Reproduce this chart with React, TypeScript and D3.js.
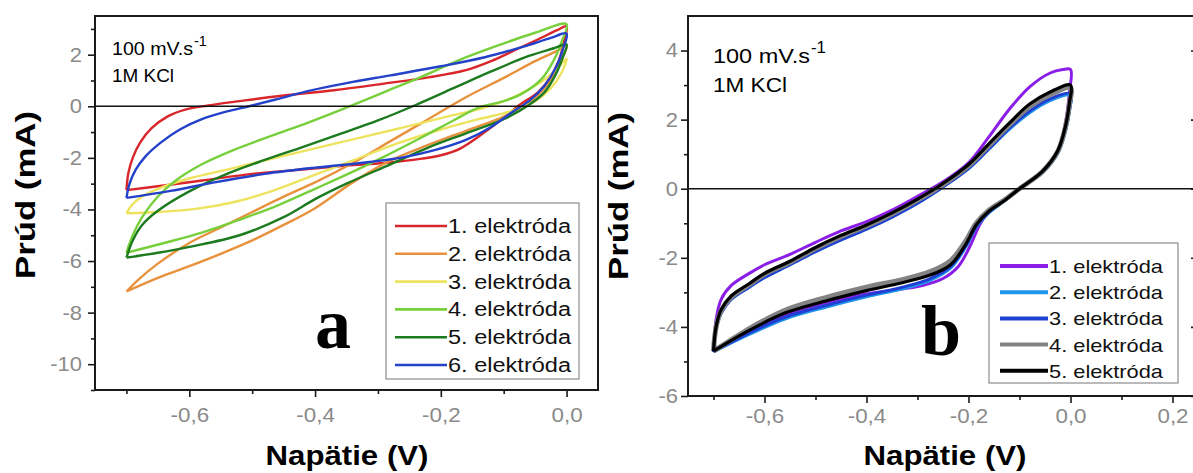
import React, { useEffect, useRef } from "react";
import * as d3 from "d3";

// ---- panel a: CV loops, [napätie V, prúd mA], forward scan then reverse scan
const a1Fwd = [[-0.7,-3.25],[-0.697,-2.6],[-0.69,-2.0],[-0.678,-1.4],[-0.66,-0.85],[-0.635,-0.4],[-0.605,-0.12],[-0.57,0.03],[-0.52,0.2],[-0.45,0.42],[-0.37,0.62],[-0.29,0.88],[-0.22,1.12],[-0.16,1.4],[-0.12,1.75],[-0.08,2.2],[-0.045,2.6],[-0.015,2.95],[0,3.1]];
const a1Rev = [[0,3.1],[-0.004,2.5],[-0.012,1.8],[-0.025,1.15],[-0.045,0.55],[-0.075,0.05],[-0.1,-0.45],[-0.13,-1.0],[-0.17,-1.65],[-0.2,-1.9],[-0.23,-2.03],[-0.29,-2.2],[-0.35,-2.3],[-0.42,-2.45],[-0.5,-2.62],[-0.58,-2.88],[-0.65,-3.1],[-0.7,-3.25]];
const a2Fwd = [[-0.7,-7.18],[-0.68,-6.7],[-0.65,-6.1],[-0.6,-5.3],[-0.55,-4.7],[-0.5,-4.1],[-0.45,-3.5],[-0.4,-2.95],[-0.34,-2.2],[-0.28,-1.35],[-0.22,-0.5],[-0.16,0.35],[-0.1,1.1],[-0.05,1.75],[-0.015,2.15],[0,2.35]];
const a2Rev = [[0,2.35],[-0.006,1.9],[-0.018,1.3],[-0.035,0.7],[-0.06,0.15],[-0.1,-0.4],[-0.16,-0.95],[-0.22,-1.5],[-0.28,-2.1],[-0.34,-2.95],[-0.4,-3.95],[-0.45,-4.6],[-0.5,-5.2],[-0.55,-5.72],[-0.6,-6.2],[-0.65,-6.65],[-0.7,-7.18]];
const a3Fwd = [[-0.7,-4.15],[-0.692,-3.85],[-0.675,-3.5],[-0.645,-3.15],[-0.6,-2.8],[-0.53,-2.4],[-0.45,-1.92],[-0.36,-1.4],[-0.27,-0.88],[-0.19,-0.4],[-0.13,-0.05],[-0.08,0.4],[-0.04,0.95],[-0.015,1.45],[0,1.85]];
const a3Rev = [[0,1.85],[-0.008,1.3],[-0.025,0.7],[-0.05,0.2],[-0.09,-0.2],[-0.14,-0.5],[-0.2,-0.9],[-0.27,-1.45],[-0.34,-2.1],[-0.41,-2.75],[-0.47,-3.3],[-0.53,-3.72],[-0.59,-3.98],[-0.65,-4.1],[-0.7,-4.15]];
const a4Fwd = [[-0.7,-5.68],[-0.69,-5.0],[-0.675,-4.3],[-0.65,-3.5],[-0.62,-2.85],[-0.58,-2.25],[-0.53,-1.7],[-0.47,-1.15],[-0.41,-0.62],[-0.35,-0.05],[-0.29,0.55],[-0.23,1.15],[-0.17,1.8],[-0.11,2.35],[-0.05,2.85],[0,3.18]];
const a4Rev = [[0,3.18],[-0.008,2.5],[-0.02,1.8],[-0.04,1.05],[-0.07,0.5],[-0.1,0.2],[-0.14,-0.05],[-0.18,-0.55],[-0.23,-1.2],[-0.29,-1.95],[-0.35,-2.65],[-0.4,-3.2],[-0.46,-3.85],[-0.52,-4.4],[-0.58,-4.9],[-0.64,-5.3],[-0.7,-5.68]];
const a5Fwd = [[-0.7,-5.87],[-0.69,-5.2],[-0.675,-4.6],[-0.65,-4.05],[-0.6,-3.3],[-0.54,-2.62],[-0.48,-2.08],[-0.42,-1.58],[-0.36,-1.07],[-0.3,-0.55],[-0.24,0.05],[-0.18,0.7],[-0.12,1.35],[-0.06,1.95],[-0.02,2.25],[0,2.4]];
const a5Rev = [[0,2.4],[-0.006,1.9],[-0.018,1.2],[-0.035,0.55],[-0.06,0.05],[-0.1,-0.5],[-0.16,-1.05],[-0.22,-1.6],[-0.28,-2.25],[-0.35,-3.0],[-0.4,-3.6],[-0.45,-4.3],[-0.52,-5.0],[-0.6,-5.45],[-0.65,-5.68],[-0.7,-5.87]];
const a6Fwd = [[-0.7,-3.55],[-0.695,-3.0],[-0.685,-2.45],[-0.67,-1.95],[-0.645,-1.4],[-0.615,-0.9],[-0.58,-0.5],[-0.54,-0.2],[-0.505,0],[-0.46,0.28],[-0.41,0.6],[-0.35,0.9],[-0.28,1.2],[-0.2,1.55],[-0.13,1.9],[-0.07,2.3],[-0.025,2.65],[0,2.82]];
const a6Rev = [[0,2.82],[-0.006,2.2],[-0.017,1.5],[-0.035,0.8],[-0.06,0.2],[-0.085,-0.2],[-0.12,-0.8],[-0.16,-1.3],[-0.21,-1.7],[-0.26,-1.98],[-0.32,-2.18],[-0.4,-2.38],[-0.48,-2.62],[-0.56,-2.95],[-0.63,-3.28],[-0.7,-3.55]];

// ---- panel b
const b1Fwd = [[-0.7,-4.7],[-0.695,-3.8],[-0.685,-3.2],[-0.665,-2.8],[-0.63,-2.45],[-0.6,-2.2],[-0.55,-1.9],[-0.5,-1.55],[-0.45,-1.22],[-0.4,-0.95],[-0.35,-0.62],[-0.3,-0.22],[-0.25,0.2],[-0.2,0.75],[-0.16,1.5],[-0.12,2.3],[-0.08,2.95],[-0.04,3.35],[-0.015,3.45],[0,3.45]];
const b1Rev = [[0,3.45],[-0.002,2.8],[-0.01,1.9],[-0.025,1.1],[-0.055,0.5],[-0.1,0],[-0.135,-0.4],[-0.165,-0.75],[-0.18,-1.1],[-0.195,-1.6],[-0.22,-2.25],[-0.25,-2.6],[-0.29,-2.8],[-0.33,-2.9],[-0.4,-3.05],[-0.48,-3.3],[-0.56,-3.65],[-0.63,-4.15],[-0.7,-4.7]];
const b2Fwd = [[-0.7,-4.72],[-0.695,-4.05],[-0.685,-3.6],[-0.665,-3.2],[-0.63,-2.85],[-0.6,-2.57],[-0.55,-2.2],[-0.5,-1.82],[-0.45,-1.48],[-0.4,-1.17],[-0.35,-0.82],[-0.3,-0.42],[-0.25,0.05],[-0.2,0.58],[-0.16,1.15],[-0.12,1.72],[-0.08,2.2],[-0.04,2.55],[0,2.7]];
const b2Rev = [[0,2.7],[-0.002,2.25],[-0.01,1.65],[-0.025,1.02],[-0.055,0.46],[-0.1,0],[-0.13,-0.36],[-0.16,-0.7],[-0.185,-1.12],[-0.205,-1.68],[-0.235,-2.3],[-0.275,-2.65],[-0.33,-2.9],[-0.4,-3.13],[-0.48,-3.43],[-0.56,-3.77],[-0.63,-4.22],[-0.7,-4.72]];
const b3Fwd = [[-0.7,-4.72],[-0.695,-4.05],[-0.685,-3.6],[-0.665,-3.2],[-0.63,-2.85],[-0.6,-2.57],[-0.55,-2.2],[-0.5,-1.82],[-0.45,-1.48],[-0.4,-1.17],[-0.35,-0.82],[-0.3,-0.42],[-0.25,0.05],[-0.2,0.58],[-0.16,1.15],[-0.12,1.75],[-0.08,2.25],[-0.04,2.6],[0,2.75]];
const b3Rev = [[0,2.75],[-0.002,2.3],[-0.01,1.7],[-0.025,1.05],[-0.055,0.48],[-0.1,0],[-0.13,-0.35],[-0.16,-0.68],[-0.185,-1.1],[-0.205,-1.65],[-0.235,-2.25],[-0.275,-2.6],[-0.33,-2.85],[-0.4,-3.08],[-0.48,-3.38],[-0.56,-3.72],[-0.63,-4.18],[-0.7,-4.72]];
const b4Fwd = [[-0.7,-4.7],[-0.695,-4.02],[-0.685,-3.53],[-0.665,-3.13],[-0.63,-2.78],[-0.6,-2.48],[-0.55,-2.13],[-0.5,-1.73],[-0.45,-1.38],[-0.4,-1.08],[-0.35,-0.73],[-0.3,-0.33],[-0.25,0.12],[-0.2,0.66],[-0.16,1.25],[-0.12,1.85],[-0.08,2.38],[-0.04,2.72],[0,2.92]];
const b4Rev = [[0,2.92],[-0.002,2.45],[-0.01,1.78],[-0.025,1.08],[-0.055,0.5],[-0.1,0],[-0.13,-0.33],[-0.16,-0.62],[-0.185,-1.0],[-0.205,-1.5],[-0.235,-2.08],[-0.275,-2.4],[-0.33,-2.63],[-0.4,-2.85],[-0.48,-3.15],[-0.56,-3.52],[-0.63,-4.05],[-0.7,-4.7]];
const b5Fwd = [[-0.7,-4.7],[-0.695,-4.0],[-0.685,-3.5],[-0.665,-3.1],[-0.63,-2.75],[-0.6,-2.45],[-0.55,-2.1],[-0.5,-1.7],[-0.45,-1.35],[-0.4,-1.05],[-0.35,-0.7],[-0.3,-0.3],[-0.25,0.15],[-0.2,0.7],[-0.16,1.3],[-0.12,1.9],[-0.08,2.45],[-0.04,2.8],[0,3.0]];
const b5Rev = [[0,3.0],[-0.002,2.5],[-0.01,1.8],[-0.025,1.1],[-0.055,0.5],[-0.1,0],[-0.13,-0.35],[-0.16,-0.65],[-0.185,-1.05],[-0.205,-1.6],[-0.235,-2.2],[-0.275,-2.5],[-0.33,-2.72],[-0.4,-2.95],[-0.48,-3.25],[-0.56,-3.6],[-0.63,-4.1],[-0.7,-4.7]];

const labelsA = ["1. elektróda", "2. elektróda", "3. elektróda", "4. elektróda", "5. elektróda", "6. elektróda"];
const colorsA = ["#d8262b", "#e8923e", "#eee35e", "#78cf3c", "#1c7a1f", "#2341c9"];
const loopsA = [[a1Fwd, a1Rev], [a2Fwd, a2Rev], [a3Fwd, a3Rev], [a4Fwd, a4Rev], [a5Fwd, a5Rev], [a6Fwd, a6Rev]];

const labelsB = ["1. elektróda", "2. elektróda", "3. elektróda", "4. elektróda", "5. elektróda"];
const colorsB = ["#8b1ee6", "#1f95ea", "#1f3fd2", "#838383", "#000000"];
const widthsB = [3, 3, 3, 5, 3.2];
const loopsB = [[b1Fwd, b1Rev], [b2Fwd, b2Rev], [b3Fwd, b3Rev], [b4Fwd, b4Rev], [b5Fwd, b5Rev]];

const SANS = "'Liberation Sans', Arial, sans-serif";

const fmt = (d) => (d < 0 ? "-" : "") + Math.abs(d).toFixed(1).replace(".", ",");
const fmtInt = (d) => (d < 0 ? "-" : "") + Math.abs(d);

function drawPanel(svg, p) {
  const g = svg.append("g");
  const { x, y } = p;
  const [x0, x1] = x.range();
  const [y0, y1] = y.range();

  // curves
  const line = d3.line().x(d => x(d[0])).y(d => y(d[1])).curve(d3.curveCatmullRom.alpha(0.5));
  p.loops.forEach((lp, i) => {
    g.append("path")
      .attr("d", line(lp[0].concat(lp[1].slice(1))))
      .attr("fill", "none")
      .attr("stroke", p.colors[i])
      .attr("stroke-width", p.widths ? p.widths[i] : 2.4)
      .attr("stroke-linejoin", "round");
  });

  // zero line
  g.append("line").attr("x1", x0).attr("x2", x1).attr("y1", y(0)).attr("y2", y(0))
    .attr("stroke", "#111").attr("stroke-width", 1.6);

  // frame
  g.append("rect").attr("x", x0).attr("y", y1).attr("width", x1 - x0).attr("height", y0 - y1)
    .attr("fill", "none").attr("stroke", "#1a1a1a").attr("stroke-width", 2);

  // axes: minor ticks then major with labels
  const axStyle = (sel) => {
    sel.select(".domain").remove();
    sel.selectAll("line").attr("stroke", "#1a1a1a").attr("stroke-width", 1.6);
  };
  g.append("g").attr("transform", `translate(0,${y0})`)
    .call(d3.axisBottom(x).tickValues(p.xMinor).tickSize(4).tickFormat(() => ""))
    .call(axStyle);
  const xa = g.append("g").attr("transform", `translate(0,${y0})`)
    .call(d3.axisBottom(x).tickValues(p.xMajor).tickSize(7).tickFormat(fmt).tickPadding(p.xPad))
    .call(axStyle);
  xa.selectAll("text").attr("fill", "#8a8a8a").attr("font-family", SANS).attr("font-size", 20)
    .attr("transform", "scale(1.12,1)");

  g.append("g").attr("transform", `translate(${x0},0)`)
    .call(d3.axisLeft(y).tickValues(p.yMinor).tickSize(4).tickFormat(() => ""))
    .call(axStyle);
  const ya = g.append("g").attr("transform", `translate(${x0},0)`)
    .call(d3.axisLeft(y).tickValues(p.yMajor).tickSize(7).tickFormat(fmtInt).tickPadding(p.yPad))
    .call(axStyle);
  ya.selectAll("text").attr("fill", "#8a8a8a").attr("font-family", SANS).attr("font-size", 20)
    .attr("x", -(7 + p.yPad) / 1.1).attr("transform", "scale(1.1,1)");

  if (p.rightTicks) {
    g.append("g").attr("transform", `translate(${x1},0)`)
      .call(d3.axisLeft(y).tickValues(p.yMajor).tickSize(7).tickFormat(() => ""))
      .call(axStyle);
  }

  // axis titles
  g.append("text").attr("x", p.xTitle[0]).attr("y", p.xTitle[1]).attr("text-anchor", "middle")
    .attr("font-family", SANS).attr("font-weight", "bold").attr("font-size", 28)
    .attr("textLength", 163).attr("lengthAdjust", "spacingAndGlyphs")
    .text("Napätie (V)");
  g.append("text").attr("transform", `translate(${p.yTitle[0]},${p.yTitle[1]}) rotate(-90)`)
    .attr("text-anchor", "middle")
    .attr("font-family", SANS).attr("font-weight", "bold").attr("font-size", 28)
    .attr("textLength", 168).attr("lengthAdjust", "spacingAndGlyphs")
    .text("Prúd (mA)");

  // annotation
  const an = p.note;
  g.append("text").attr("x", an.x).attr("y", an.y1).attr("font-family", SANS).attr("font-size", an.fs)
    .attr("textLength", an.w1).attr("lengthAdjust", "spacingAndGlyphs").text("100 mV.s");
  g.append("text").attr("x", an.x + an.w1 + 1).attr("y", an.ys).attr("font-family", SANS)
    .attr("font-size", an.fs * 0.8).text("-1");
  g.append("text").attr("x", an.x).attr("y", an.y2).attr("font-family", SANS).attr("font-size", an.fs)
    .attr("textLength", an.w2).attr("lengthAdjust", "spacingAndGlyphs").text("1M KCl");

  // legend
  const lg = p.legend;
  g.append("rect").attr("x", lg.x).attr("y", lg.y).attr("width", lg.w).attr("height", lg.h)
    .attr("fill", "#fff").attr("stroke", "#8c8c8c").attr("stroke-width", 1.2);
  p.labels.forEach((lab, i) => {
    const cy = lg.row0 + i * lg.step;
    g.append("line").attr("x1", lg.lx0).attr("x2", lg.lx1).attr("y1", cy).attr("y2", cy)
      .attr("stroke", p.colors[i]).attr("stroke-width", lg.lw);
    g.append("text").attr("x", lg.lx1 + 1).attr("y", cy + 7).attr("font-family", SANS)
      .attr("font-size", lg.fs).attr("textLength", lg.tw).attr("lengthAdjust", "spacingAndGlyphs")
      .attr("fill", "#111").text(lab);
  });

  // panel letter
  g.append("text").attr("x", p.letter[0]).attr("y", p.letter[1]).attr("text-anchor", "middle")
    .attr("font-family", "'Liberation Serif', 'Times New Roman', serif").attr("font-weight", "bold")
    .attr("font-size", 72).text(p.letter[2]);
}

export default function App() {
  const ref = useRef(null);

  useEffect(() => {
    const svg = d3.select(ref.current);
    svg.selectAll("*").remove();

    drawPanel(svg, {
      x: d3.scaleLinear().domain([-0.75, 0.05]).range([95, 598]),
      y: d3.scaleLinear().domain([-11, 3.5]).range([390, 16]),
      xMajor: [-0.6, -0.4, -0.2, 0],
      xMinor: [-0.7, -0.5, -0.3, -0.1],
      yMajor: [-10, -8, -6, -4, -2, 0, 2],
      yMinor: [-11, -9, -7, -5, -3, -1, 1, 3],
      xPad: 11, yPad: 6,
      loops: loopsA, colors: colorsA, labels: labelsA,
      xTitle: [347, 465], yTitle: [35, 195],
      note: { x: 112, y1: 55, ys: 46, y2: 82, fs: 18, w1: 81, w2: 62 },
      legend: { x: 386, y: 203, w: 193, h: 176, row0: 226, step: 27.8, lx0: 395, lx1: 447, lw: 2.6, fs: 20, tw: 123 },
      letter: [333, 348, "a"],
    });

    drawPanel(svg, {
      x: d3.scaleLinear().domain([-0.75, 0.25]).range([688, 1198]),
      y: d3.scaleLinear().domain([-6, 5]).range([396, 16]),
      xMajor: [-0.6, -0.4, -0.2, 0, 0.2],
      xMinor: [-0.7, -0.5, -0.3, -0.1, 0.1],
      yMajor: [-6, -4, -2, 0, 2, 4],
      yMinor: [-5, -3, -1, 1, 3],
      xPad: 6, yPad: 3, rightTicks: true,
      loops: loopsB, colors: colorsB, widths: widthsB, labels: labelsB,
      xTitle: [945, 465], yTitle: [628, 196],
      note: { x: 713, y1: 63, ys: 53, y2: 92, fs: 21, w1: 97, w2: 74 },
      legend: { x: 989, y: 243, w: 189, h: 140, row0: 266, step: 26.2, lx0: 1000, lx1: 1048, lw: 4, fs: 19, tw: 114 },
      letter: [941, 355, "b"],
    });
  }, []);

  return (
    <svg ref={ref} width={1193} height={473}
      style={{ position: "fixed", left: 0, top: 0, background: "#fff", display: "block" }} />
  );
}
